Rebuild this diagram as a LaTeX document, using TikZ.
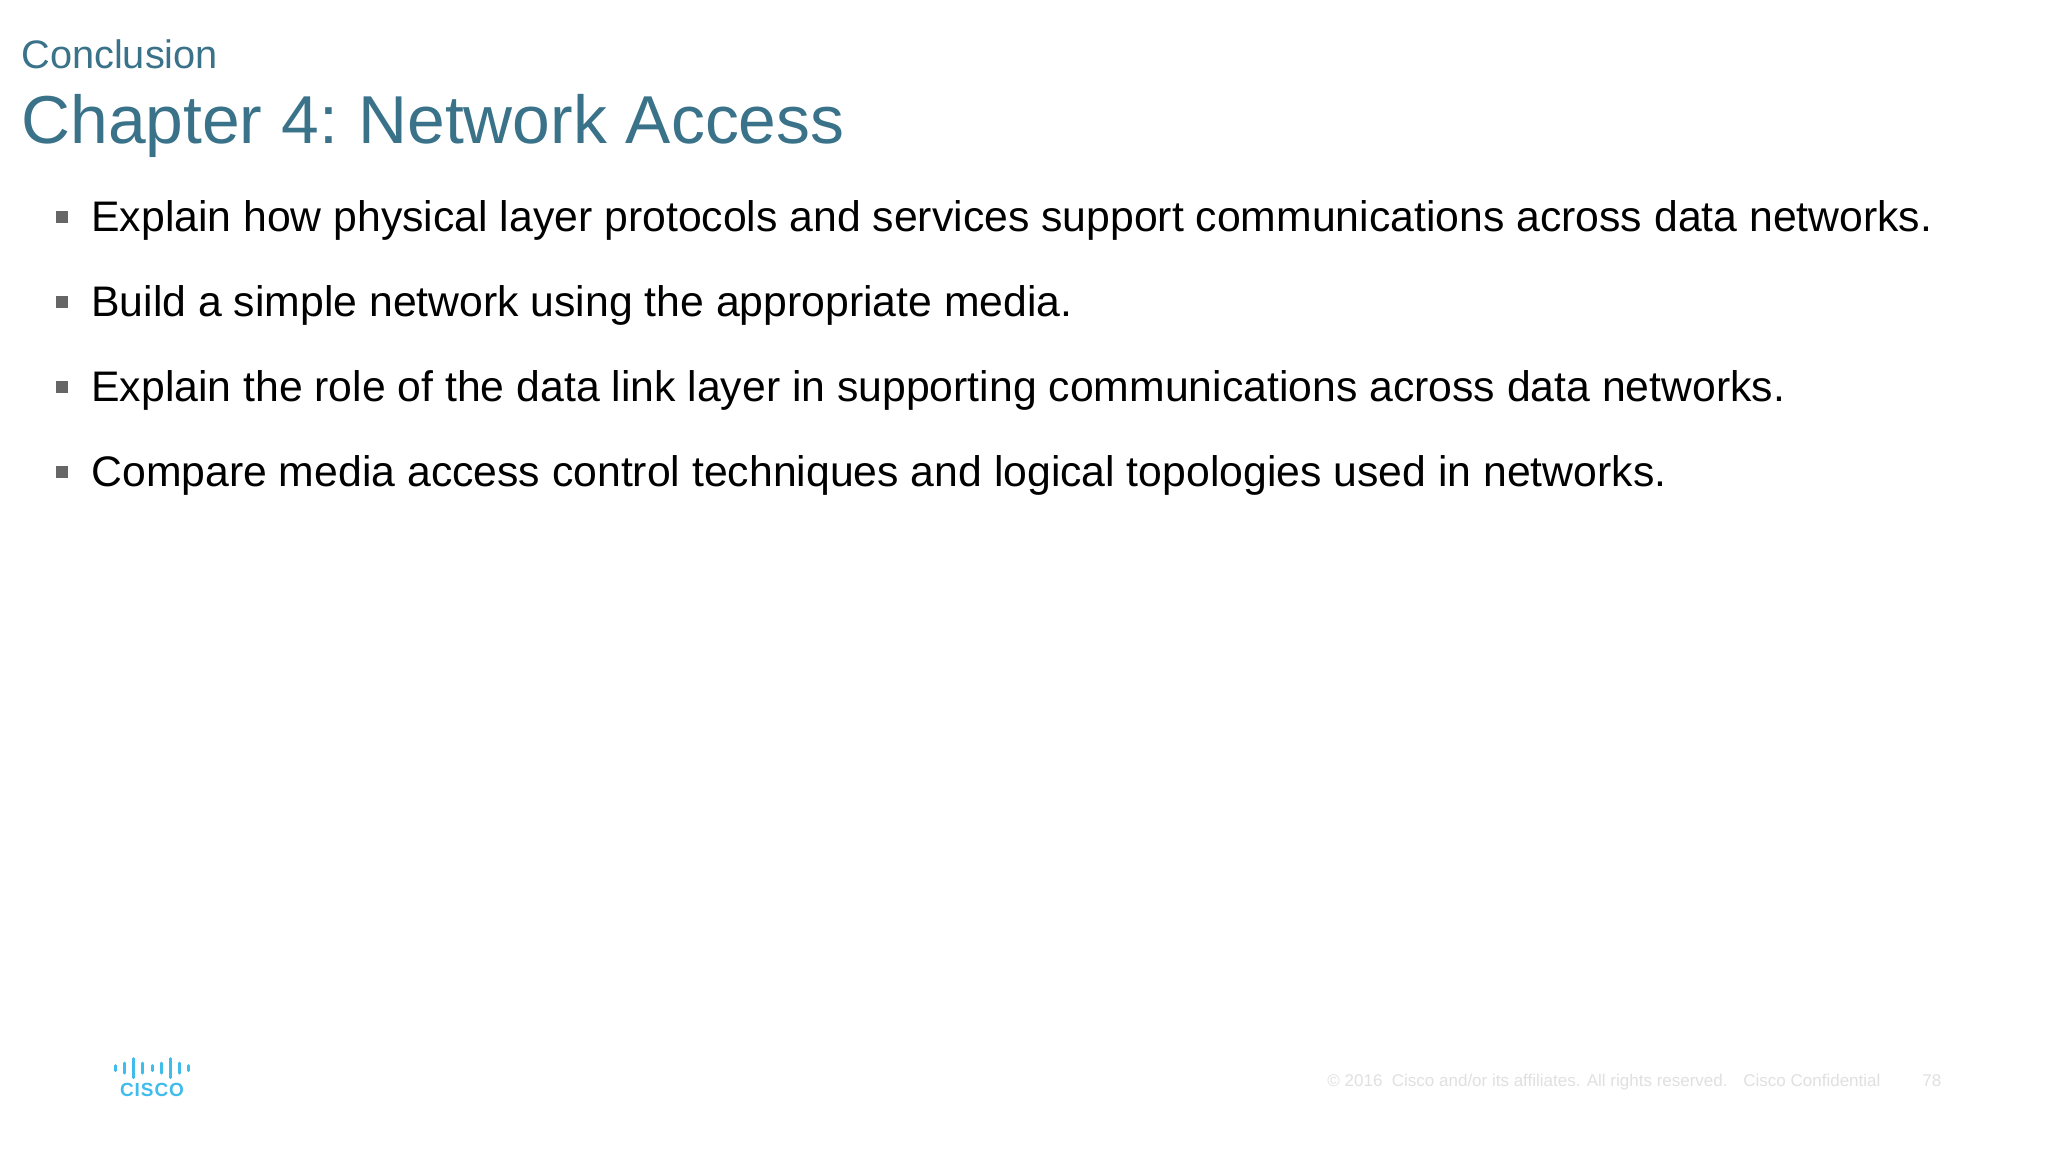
\documentclass[tikz,border=0pt]{standalone}
\usepackage{fontspec}
\setmainfont{Liberation Sans}
\newfontfamily\logofont[LetterSpace=5]{Liberation Sans Bold}
\definecolor{titleblue}{HTML}{3A7389}
\definecolor{bulletgray}{HTML}{666666}
\definecolor{footgray}{HTML}{E0E0E0}
\definecolor{logoblue}{HTML}{40BCEB}

\begin{document}
\begin{tikzpicture}[x = 0.5pt, y = -0.5pt]
\tikzstyle{TitleStyle}=[anchor = base west, inner sep = 0pt, text = titleblue]
\tikzstyle{ItemStyle}=[anchor = base west, inner sep = 0pt, text = black, font = \fontsize{21.37}{26}\selectfont]
\tikzstyle{BulletStyle}=[shape = rectangle, fill = bulletgray, minimum size = 6pt, inner sep = 0pt]
\tikzstyle{FootStyle}=[anchor = base west, inner sep = 0pt, text = footgray, font = \fontsize{8.5}{10}\selectfont]
\useasboundingbox[fill = white] (0, 0) rectangle (2048, 1152);
\node[TitleStyle, font = \fontsize{19.87}{24}\selectfont] (t0) at (21, 68) {Conclusion};
\node[TitleStyle, font = \fontsize{33.9}{40}\selectfont] (t1) at (21, 143) {Chapter 4:\hspace{-2.3pt} Network Access};
% bullets
\node[BulletStyle] (b0) at (62, 217) {};
\node[BulletStyle] (b1) at (62, 302) {};
\node[BulletStyle] (b2) at (62, 387) {};
\node[BulletStyle] (b3) at (62, 472) {};
\node[ItemStyle] (i0) at (91, 231) {Explain how physical layer protocols and services support communications across data networks.};
\node[ItemStyle] (i1) at (91, 316) {Build a simple network using the appropriate media.};
\node[ItemStyle] (i2) at (91, 401) {Explain the role of the data link layer in supporting communications across data networks.};
\node[ItemStyle] (i3) at (91, 486) {Compare media access control techniques and logical topologies used in networks.};
% logo
\foreach \x/\h in {115/7, 124/12, 133/21, 142/12, 152/7, 161/12, 170/21, 179/12, 188/7}
  \draw[logoblue, line width = 1.5pt, line cap = round] (\x, 1068 - \h/2 + 1) -- (\x, 1068 + \h/2 - 1);
\node[anchor = base, inner sep = 0pt, text = logoblue, font = \logofont\fontsize{9.5}{11}\selectfont] (logo) at (152, 1096) {CISCO};
% footer
\node[FootStyle] (f0) at (1327, 1086) {© 2016\ \ Cisco and/or its affiliates. All rights reserved.};
\node[FootStyle] (f1) at (1743, 1086) {Cisco Confidential};
\node[FootStyle] (f2) at (1922, 1086) {78};
\end{tikzpicture}
\end{document}
